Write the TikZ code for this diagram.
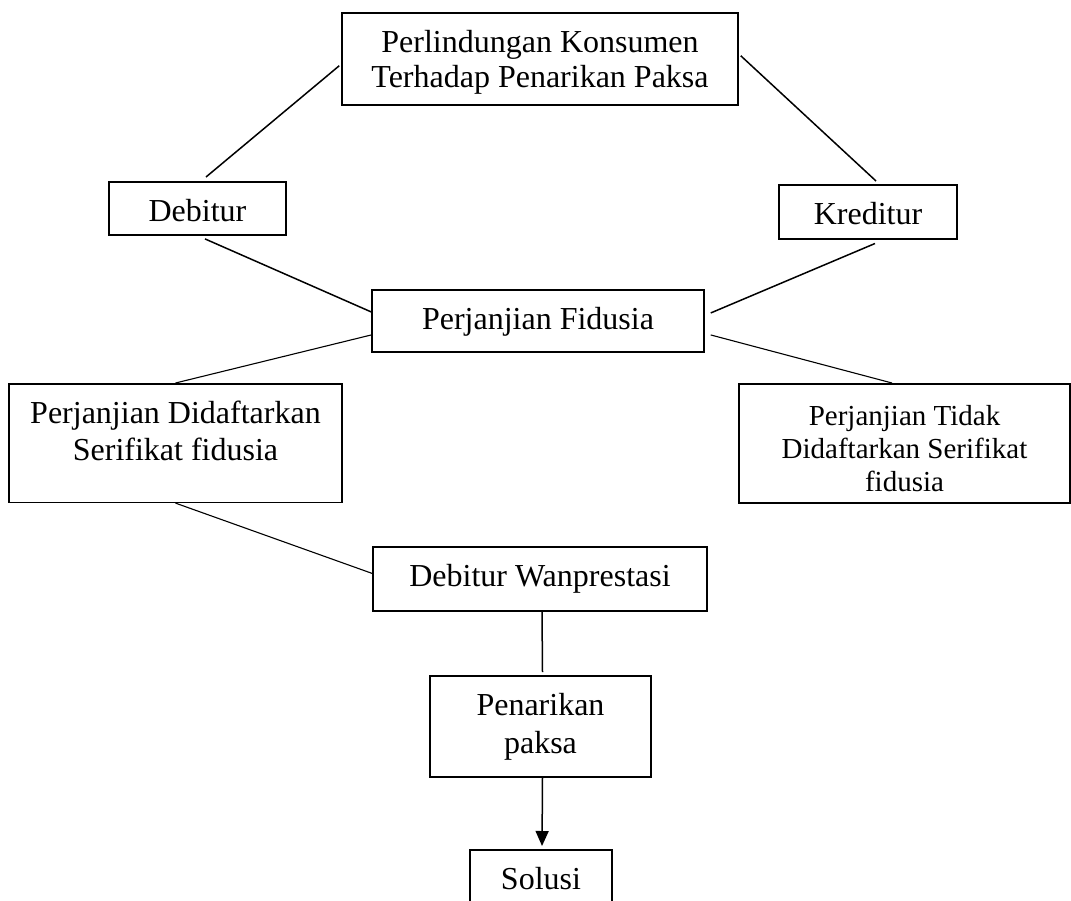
\documentclass[tikz,border=0pt]{standalone}
\usepackage{fontspec}
\setmainfont{Liberation Serif}
\usetikzlibrary{arrows.meta}

\begin{document}
\begin{tikzpicture}[x=0.5pt, y=-0.5pt, >={Triangle[length=7.5pt,width=6.5pt]},
    box/.style={draw, line width=0.75pt, anchor=north, align=center, inner sep=0pt,
                text height=20pt, font=\fontsize{16pt}{18.5pt}\selectfont},
    link/.style={line width=0.75pt},
    thinlink/.style={line width=0.55pt}]
    \useasboundingbox (0,0) rectangle (1071,900);
    \clip (0,0) rectangle (1071,900);

    \node[box, minimum width=198pt, text height=37.5pt, text depth=8.5pt,
          font=\fontsize{16pt}{17.5pt}\selectfont] (prot) at (540,12)
        {Perlindungan Konsumen\\Terhadap Penarikan Paksa};
    \node[box, minimum width=88.5pt, text depth=6.7pt] (deb) at (197.5,181) {Debitur};
    \node[box, minimum width=89pt, text depth=7pt] (kred) at (868,184) {Kreditur};
    \node[box, minimum width=166pt, text depth=11.2pt] (fid) at (538,289) {Perjanjian Fidusia};
    \node[box, minimum width=166.5pt, text height=38.5pt, text depth=20.8pt] (daft) at (175.5,383)
        {Perjanjian Didaftarkan\\Serifikat fidusia};
    \node[box, minimum width=165.5pt, text height=54pt, text depth=5.5pt,
          font=\fontsize{14.5pt}{16.5pt}\selectfont] (tidak) at (904.5,383)
        {Perjanjian Tidak\\Didaftarkan Serifikat\\fidusia};
    \node[box, minimum width=167pt, text depth=12.2pt] (wan) at (540,546) {Debitur Wanprestasi};
    \node[box, minimum width=110.5pt, text height=39pt, text depth=11.5pt,
          font=\fontsize{16pt}{19pt}\selectfont] (pen) at (540.5,675)
        {Penarikan\\paksa};
    \node[box, minimum width=71pt, text depth=9.3pt] (sol) at (541,849) {Solusi};

    % upper part
    \draw[link] ([xshift=-1pt, yshift=-3.5pt]prot.west) -- ([xshift=4.25pt, yshift=2pt]deb.north);
    \draw[link] ([xshift=1pt, yshift=1.5pt]prot.east) -- ([xshift=4pt, yshift=1.5pt]kred.north);
    \draw[link] ([xshift=3.75pt, yshift=-1.5pt]deb.south) -- ([yshift=4.5pt]fid.west);
    \draw[link] ([xshift=3.5pt, yshift=-2pt]kred.south) -- ([xshift=3pt, yshift=4pt]fid.east);

    % lower part
    \draw[thinlink] ([yshift=-7pt]fid.west) -- (daft.north);
    \draw[thinlink] ([xshift=3pt, yshift=-7pt]fid.east) -- ([xshift=-6.25pt]tidak.north);
    \draw[thinlink] (daft.south) -- ([yshift=2.75pt]wan.west);
    \draw[link] ([xshift=1pt]wan.south) -- ([xshift=1pt, yshift=1.5pt]pen.north);
    \draw[link, ->, shorten >=1.5pt] ([xshift=1pt]pen.south) -- ([xshift=0.5pt]sol.north);
\end{tikzpicture}
\end{document}
